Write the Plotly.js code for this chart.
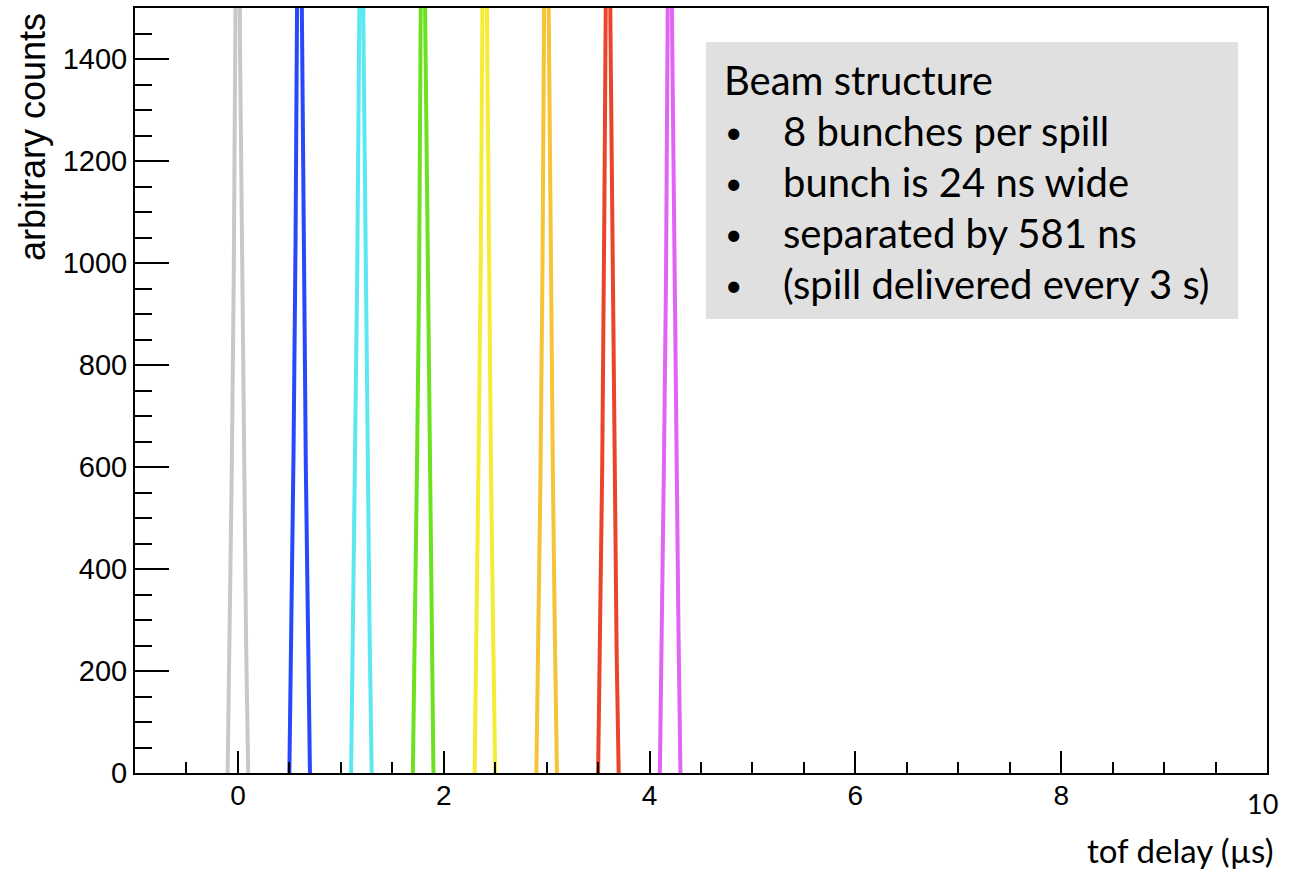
<!DOCTYPE html>
<html>
<head>
<meta charset="utf-8">
<script src="https://cdn.plot.ly/plotly-3.0.1.min.js"></script>
<style>html,body{margin:0;padding:0;background:#fff;}#chart{width:1291px;height:871px;}</style>
</head>
<body>
<div id="chart"></div>
<script>
// bunch centres (µs) and in-bunch offsets (µs)
const bunchCentres = [0.0, 0.6, 1.2, 1.8, 2.4, 3.0, 3.6, 4.2];
const binOffsets = [-0.10, -0.08, -0.06, -0.04, -0.02, 0.0, 0.02, 0.04, 0.06, 0.08, 0.10];
// counts per bunch (tops clipped at 1500)
const bunch1 = [0, 280, 590, 980, 1480, 2250, 1430, 1000, 560, 250, 0];
const bunch2 = [0, 260, 620, 1040, 1340, 2300, 1530, 960, 600, 300, 0];
const bunch3 = [0, 300, 560, 990, 1500, 2200, 1450, 1020, 590, 270, 0];
const bunch4 = [0, 250, 600, 950, 1420, 2280, 1480, 1100, 640, 260, 0];
const bunch5 = [0, 290, 640, 1010, 1470, 2220, 1490, 980, 580, 280, 0];
const bunch6 = [0, 270, 580, 1000, 1500, 2300, 1500, 1000, 600, 270, 0];
const bunch7 = [0, 310, 600, 1080, 1350, 2260, 1460, 990, 620, 240, 0];
const bunch8 = [0, 260, 610, 970, 1450, 2240, 1440, 1030, 570, 300, 0];
const bunchCounts = [bunch1, bunch2, bunch3, bunch4, bunch5, bunch6, bunch7, bunch8];
const bunchColors = ['rgb(200,200,200)', 'rgb(40,72,252)', 'rgb(92,232,240)', 'rgb(108,226,30)',
                     'rgb(246,236,52)', 'rgb(246,196,52)', 'rgb(236,68,44)', 'rgb(226,100,246)'];
// axis tick labels
const xTickVals = [0, 2, 4, 6, 8, 10];
const xTickText = ['0', '2', '4', '6', '8', ''];
const legendTitle = 'Beam structure';
const legendItems = ['8 bunches per spill', 'bunch is 24 ns wide', 'separated by 581 ns', '(spill delivered every 3 s)'];

const traces = bunchCentres.map((c, i) => ({
  type: 'scatter', mode: 'lines',
  x: binOffsets.map(o => c + o),
  y: bunchCounts[i],
  line: {color: bunchColors[i], width: 4},
  hoverinfo: 'x+y', showlegend: false
}));

// layout helpers (pixel -> paper)
const L = 135, R = 1267, T = 8, B = 773;
const px = v => (v - L) / (R - L);
const py = v => (B - v) / (B - T);
const gill = 'Lato, "Open Sans", sans-serif';
const helv = '"Liberation Sans", Arial, Helvetica, sans-serif';

const annotations = [];
annotations.push({xref: 'paper', yref: 'paper', x: px(722), y: py(92), xanchor: 'left', yanchor: 'middle',
  text: legendTitle, showarrow: false, font: {family: gill, size: 40, color: '#000'}, yshift: 12});
legendItems.forEach((t, i) => {
  const base = 143 + 51 * i;
  annotations.push({xref: 'paper', yref: 'paper', x: px(733), y: py(base), xanchor: 'center', yanchor: 'middle',
    text: '•', showarrow: false, font: {family: gill, size: 30, color: '#000'}, yshift: 12});
  annotations.push({xref: 'paper', yref: 'paper', x: px(781), y: py(base), xanchor: 'left', yanchor: 'middle',
    text: t, showarrow: false, font: {family: gill, size: 40, color: '#000'}, yshift: 12});
});
annotations.push({xref: 'paper', yref: 'paper', x: px(1275), y: py(872), xanchor: 'right', yanchor: 'bottom',
  text: 'tof delay (µs)', showarrow: false, font: {family: gill, size: 33, color: '#000'}});
annotations.push({xref: 'paper', yref: 'paper', x: px(1262), y: py(822), xanchor: 'center', yanchor: 'bottom',
  text: '10', showarrow: false, font: {family: gill, size: 27, color: '#000'}});
annotations.push({xref: 'paper', yref: 'paper', x: px(32), y: py(11), xanchor: 'center', yanchor: 'top',
  text: 'arbitrary counts', textangle: -90, showarrow: false, font: {family: helv, size: 36, color: '#000'}});

const layout = {
  width: 1291, height: 871,
  margin: {l: L, r: 1291 - R, t: T, b: 871 - B},
  paper_bgcolor: '#fff', plot_bgcolor: '#fff',
  showlegend: false,
  xaxis: {
    range: [-1, 10], tickmode: 'array', tickvals: xTickVals, ticktext: xTickText,
    ticks: 'inside', ticklen: 22, tickwidth: 2, tickcolor: '#000',
    showline: true, linewidth: 2, linecolor: '#000', mirror: true,
    showgrid: false, zeroline: false, ticklabelstandoff: -4,
    tickfont: {family: helv, size: 28, color: '#000'},
    minor: {dtick: 0.5, tick0: 0, ticks: 'inside', ticklen: 11, tickwidth: 2, tickcolor: '#000', showgrid: false}
  },
  yaxis: {
    range: [0, 1500], tickmode: 'linear', tick0: 0, dtick: 200,
    ticks: 'inside', ticklen: 34, tickwidth: 2, tickcolor: '#000',
    showline: true, linewidth: 2, linecolor: '#000', mirror: true,
    showgrid: false, zeroline: false,
    tickfont: {family: helv, size: 29, color: '#000'},
    minor: {dtick: 50, tick0: 0, ticks: 'inside', ticklen: 17, tickwidth: 2, tickcolor: '#000', showgrid: false}
  },
  shapes: [{type: 'rect', xref: 'paper', yref: 'paper', x0: px(706), x1: px(1238), y0: py(319), y1: py(42),
    fillcolor: 'rgb(224,224,224)', line: {width: 0}, layer: 'above'}],
  annotations: annotations
};

Plotly.newPlot('chart', traces, layout, {displayModeBar: false, staticPlot: true});
</script>
</body>
</html>
